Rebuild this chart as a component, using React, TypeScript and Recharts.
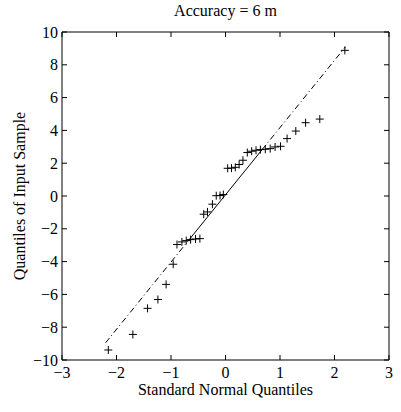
import { ScatterChart, Scatter, XAxis, YAxis } from "recharts";

// normal quantiles (x) and sorted sample values (y)
const normalQuantiles = [
  -2.15, -1.7, -1.43, -1.24, -1.09, -0.96, -0.89, -0.8, -0.72, -0.64, -0.55, -0.47,
  -0.4, -0.33, -0.24, -0.17, -0.1, -0.04, 0.04, 0.11, 0.18, 0.25, 0.32, 0.4,
  0.48, 0.56, 0.64, 0.73, 0.82, 0.91, 1.01, 1.13, 1.29, 1.47, 1.73, 2.19,
];
const sampleQuantiles = [
  -9.39, -8.44, -6.85, -6.31, -5.39, -4.16, -2.96, -2.8, -2.72, -2.66, -2.62, -2.6,
  -1.11, -0.97, -0.5, 0.02, 0.03, 0.09, 1.69, 1.7, 1.75, 1.92, 2.18, 2.65,
  2.73, 2.79, 2.83, 2.85, 2.89, 2.99, 3.03, 3.5, 3.96, 4.47, 4.69, 8.88,
];

// reference line: dash-dot to the extremes, solid between the quartiles
const fitX = [-2.2, -0.674, 0.674, 2.2];
const fitY = [-8.95, -2.69, 2.835, 9.09];

const xTicks = [-3, -2, -1, 0, 1, 2, 3];
const yTicks = [-10, -8, -6, -4, -2, 0, 2, 4, 6, 8, 10];

const points = normalQuantiles.map((x, i) => ({ x, y: sampleQuantiles[i] }));
const fitPts = fitX.map((x, i) => ({ x, y: fitY[i] }));
const lowDash = fitPts.slice(0, 2);
const solid = fitPts.slice(1, 3);
const highDash = fitPts.slice(2, 4);

const font = "'Liberation Serif', 'Times New Roman', serif";
const tickStyle = { fill: "#000", fontSize: 16, fontFamily: font };
const minus = (v: number) => String(v).replace("-", "\u2212");

const Plus = (props: any) => {
  const { cx, cy } = props;
  return (
    <path
      d={`M${cx - 4},${cy}h8M${cx},${cy - 4}v8`}
      stroke="#000"
      strokeWidth={1}
      fill="none"
    />
  );
};

const NoDot = () => <g />;
const NoLabel = () => <g />;

export default function App() {
  return (
    <div style={{ position: "absolute", left: 0, top: 0, background: "#fff" }}>
      <ScatterChart
        width={401}
        height={412}
        margin={{ top: 31, right: 11, left: 0, bottom: 0 }}
      >
        <XAxis
          type="number"
          dataKey="x"
          domain={[-3, 3]}
          ticks={xTicks}
          tickFormatter={minus}
          height={52}
          tickSize={-5}
          tickMargin={12}
          axisLine={{ stroke: "#000" }}
          tickLine={{ stroke: "#000" }}
          tick={tickStyle}
          label={{
            value: "Standard Normal Quantiles",
            position: "insideBottom",
            offset: 17,
            style: { fill: "#000", fontSize: 16, fontFamily: font },
          }}
        />
        <XAxis
          xAxisId="top"
          orientation="top"
          type="number"
          dataKey="x"
          domain={[-3, 3]}
          ticks={xTicks}
          height={1}
          tickSize={-5}
          axisLine={{ stroke: "#000" }}
          tickLine={{ stroke: "#000" }}
          tick={NoLabel}
          label={{
            value: "Accuracy = 6 m",
            position: "top",
            offset: 15,
            style: { fill: "#000", fontSize: 16, fontFamily: font },
          }}
        />
        <YAxis
          type="number"
          dataKey="y"
          domain={[-10, 10]}
          ticks={yTicks}
          tickFormatter={minus}
          width={62}
          tickSize={-5}
          tickMargin={9}
          axisLine={{ stroke: "#000" }}
          tickLine={{ stroke: "#000" }}
          tick={tickStyle}
          label={{
            value: "Quantiles of Input Sample",
            angle: -90,
            position: "insideLeft",
            offset: 19,
            style: { fill: "#000", fontSize: 16, fontFamily: font, textAnchor: "middle" },
          }}
        />
        <YAxis
          yAxisId="right"
          orientation="right"
          type="number"
          dataKey="y"
          domain={[-10, 10]}
          ticks={yTicks}
          width={1}
          tickSize={-5}
          axisLine={{ stroke: "#000" }}
          tickLine={{ stroke: "#000" }}
          tick={NoLabel}
        />
        {/* invisible series so the top/right frame axes get rendered */}
        <Scatter
          data={points}
          xAxisId="top"
          yAxisId="right"
          shape={NoDot}
          legendType="none"
          isAnimationActive={false}
        />
        <Scatter
          data={lowDash}
          line={{ stroke: "#000", strokeWidth: 1, strokeDasharray: "6 3 1 3" }}
          shape={NoDot}
          isAnimationActive={false}
        />
        <Scatter
          data={solid}
          line={{ stroke: "#000", strokeWidth: 1 }}
          shape={NoDot}
          isAnimationActive={false}
        />
        <Scatter
          data={highDash}
          line={{ stroke: "#000", strokeWidth: 1, strokeDasharray: "6 3 1 3" }}
          shape={NoDot}
          isAnimationActive={false}
        />
        <Scatter data={points} shape={Plus} isAnimationActive={false} />
      </ScatterChart>
    </div>
  );
}
